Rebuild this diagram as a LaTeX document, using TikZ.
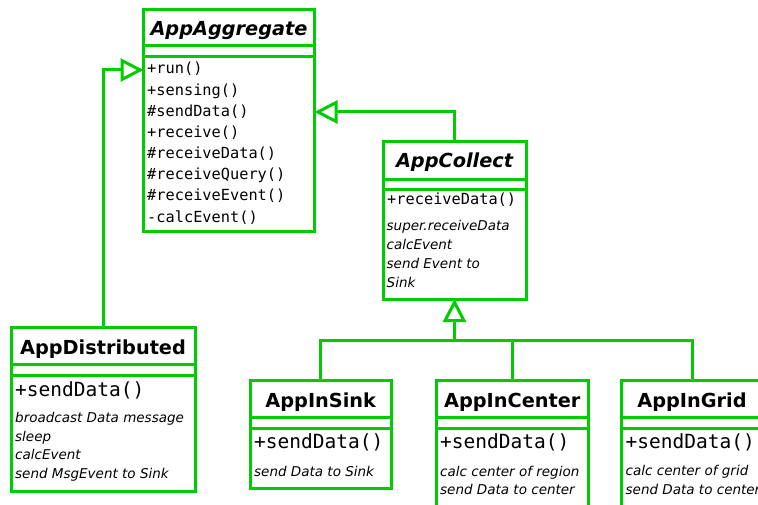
\documentclass[tikz,border=0pt]{standalone}
\usepackage{fontspec}
\setmainfont{DejaVu Sans}
\setmonofont{DejaVu Sans Mono}
\usetikzlibrary{arrows.meta}
\definecolor{umlgreen}{RGB}{0,204,0}
\tikzset{
 cls/.style={draw=umlgreen, line width=3pt, rectangle, inner sep=0pt, outer sep=0pt, fill=white},
 divl/.style={draw=umlgreen, line width=3pt},
 conn/.style={draw=umlgreen, line width=3pt},
 inh/.style={conn, -{Triangle[length=23pt,width=23pt,fill=white]}},
 ttl/.style={anchor=base, inner sep=0pt, font=\fontsize{19.3}{19.3}\selectfont\bfseries},
 atl/.style={anchor=base, inner sep=0pt, font=\fontsize{19.3}{19.3}\selectfont\bfseries\itshape},
 meth/.style={anchor=base west, inner sep=0pt, font=\fontsize{15.3}{15.3}\selectfont\ttfamily},
 bmeth/.style={anchor=base west, inner sep=0pt, font=\fontsize{19.5}{19.5}\selectfont\ttfamily},
 note/.style={anchor=base west, inner sep=0pt, font=\fontsize{13.5}{13.5}\selectfont\itshape},
}
\begin{document}
\begin{tikzpicture}[x=1pt,y=-1pt]
\useasboundingbox (0,0) rectangle (758,505);
\clip (0,0) rectangle (758,505);
% boxes
\node[cls, minimum width=171pt, minimum height=222pt] (agg) at (229,120.5) {};
\node[cls, minimum width=143pt, minimum height=157.5pt] (col) at (454.5,220.25) {};
\node[cls, minimum width=184pt, minimum height=163.5pt] (dist) at (103,409.25) {};
\node[cls, minimum width=141.5pt, minimum height=108pt] (sink) at (320.75,434) {};
\node[cls, minimum width=152.5pt, minimum height=160pt] (cent) at (512.25,460) {};
\node[cls, minimum width=142pt, minimum height=160pt] (grid) at (692,460) {};
% dividers
\draw[divl] ([yshift=-36pt]agg.north west) -- ([yshift=-36pt]agg.north east);
\draw[divl] ([yshift=-47.5pt]agg.north west) -- ([yshift=-47.5pt]agg.north east);
\draw[divl] ([yshift=-38pt]col.north west) -- ([yshift=-38pt]col.north east);
\draw[divl] ([yshift=-48pt]col.north west) -- ([yshift=-48pt]col.north east);
\draw[divl] ([yshift=-36.5pt]dist.north west) -- ([yshift=-36.5pt]dist.north east);
\draw[divl] ([yshift=-47.5pt]dist.north west) -- ([yshift=-47.5pt]dist.north east);
\foreach \b in {sink,cent,grid}{
  \draw[divl] ([yshift=-37.5pt]\b.north west) -- ([yshift=-37.5pt]\b.north east);
  \draw[divl] ([yshift=-48pt]\b.north west) -- ([yshift=-48pt]\b.north east);
}
% connectors
\draw[inh] (col.north) |- ([yshift=8.5pt]agg.east);
\draw[inh] (dist.north) |- ([yshift=50.5pt]agg.west);
\coordinate (junc) at ([yshift=-41pt]col.south);
\draw[inh] (junc) -- (col.south);
\draw[conn] (sink.north) |- (junc);
\draw[conn] (cent.north) |- (junc);
\draw[conn] (grid.north) |- (junc);
% titles
\node[atl] (aggt) at (229,35.5) {AppAggregate};
\node[atl] (colt) at (454.5,168) {AppCollect};
\node[ttl] (distt) at (103,354.3) {AppDistributed};
\node[ttl] (sinkt) at (320.75,407) {AppInSink};
\node[ttl] (centt) at (512.25,407) {AppInCenter};
\node[ttl] (gridt) at (692,407) {AppInGrid};
% AppAggregate methods
\foreach \t [count=\i] in {+run(),+sensing(),\#sendData(),+receive(),\#receiveData(),\#receiveQuery(),\#receiveEvent(),-calcEvent()}
  \node[meth] (aggm\i) at ({147},{74+21.15*(\i-1)}) {\t};
% AppCollect
\node[meth] (colm) at (387,205) {+receiveData()};
\foreach \t [count=\i] in {super.receiveData,calcEvent,send Event to,Sink}
  \node[note] (coln\i) at ({386.5},{231+18.7*(\i-1)}) {\t};
% AppDistributed
\node[bmeth] (distm) at (15,396) {+sendData()};
\foreach \t [count=\i] in {broadcast Data message,sleep,calcEvent,send MsgEvent to Sink}
  \node[note] (distn\i) at ({15},{422.5+18.5*(\i-1)}) {\t};
% AppInSink
\node[bmeth] (sinkm) at (254,448) {+sendData()};
\node[note] (sinkn1) at (254,476) {send Data to Sink};
% AppInCenter
\node[bmeth] (centm) at (440,448) {+sendData()};
\node[note] (centn1) at (440,476) {calc center of region};
\node[note] (centn2) at (440,494.7) {send Data to center};
% AppInGrid
\node[bmeth] (gridm) at (625.5,448) {+sendData()};
\node[note] (gridn1) at (625.5,475.5) {calc center of grid};
\node[note] (gridn2) at (625.5,494) {send Data to center};
\end{tikzpicture}
\end{document}
